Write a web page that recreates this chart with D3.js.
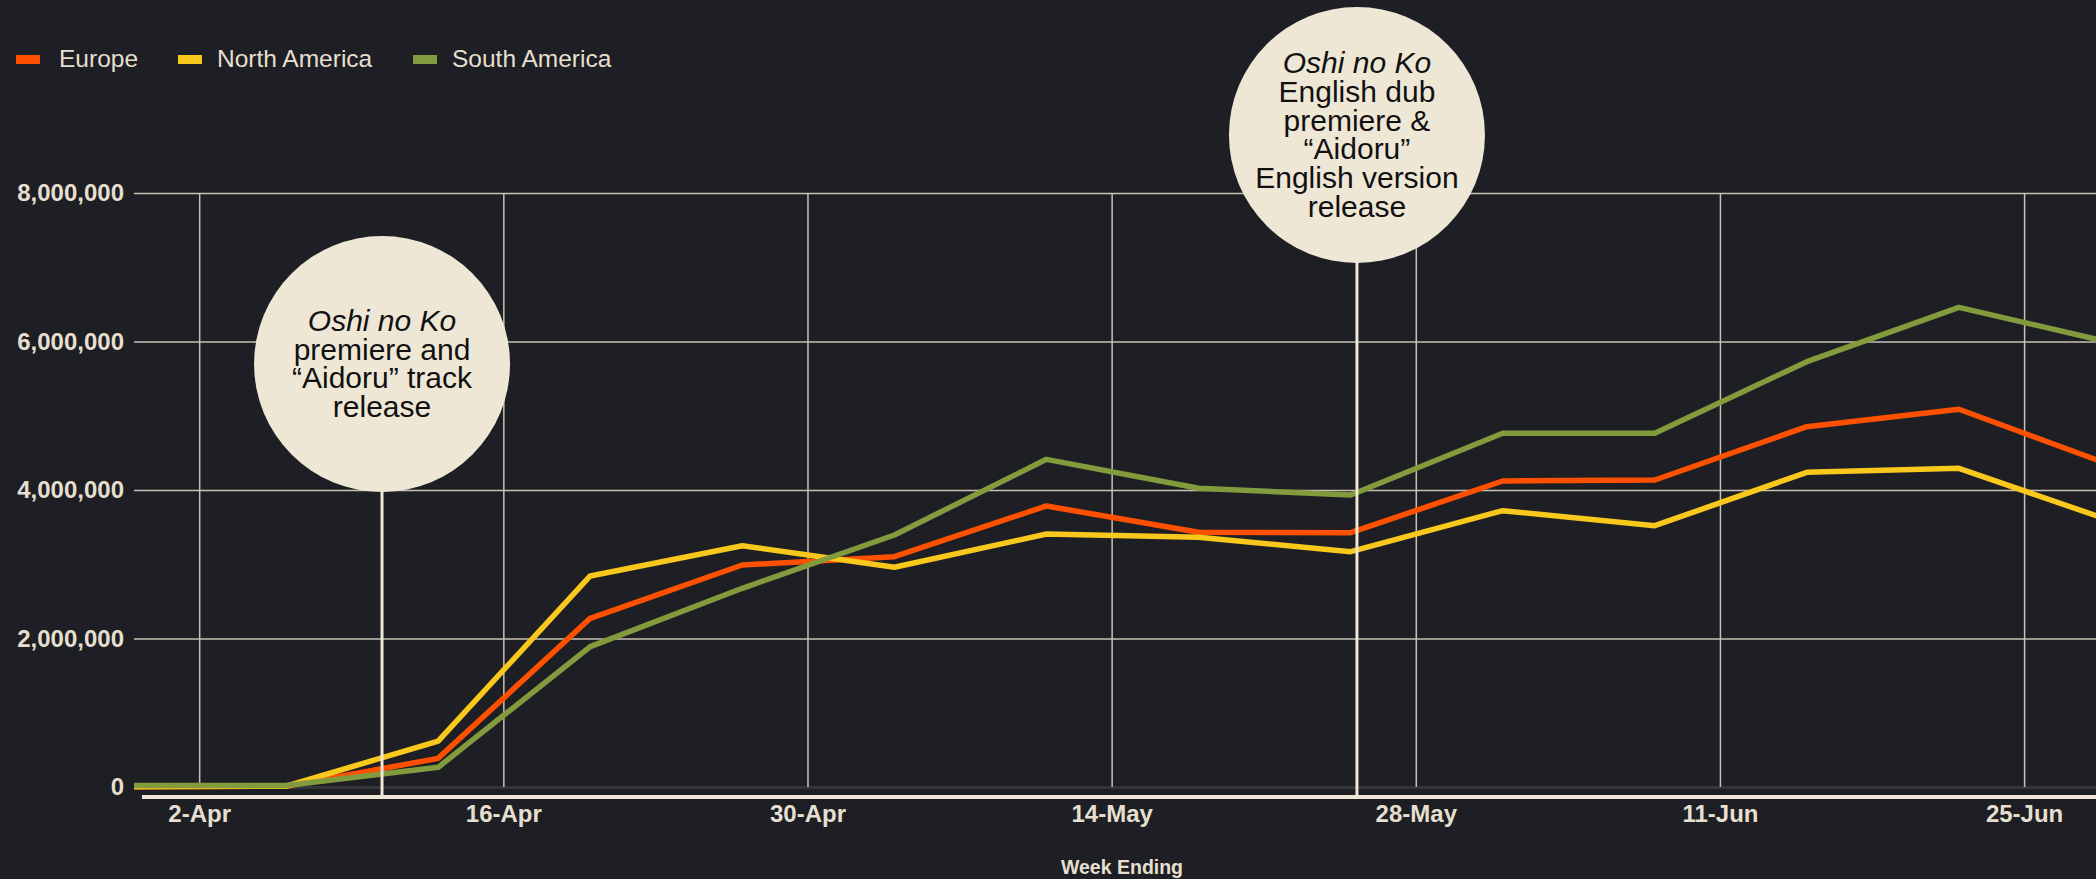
<!DOCTYPE html>
<html>
<head>
<meta charset="utf-8">
<script src="https://cdn.jsdelivr.net/npm/d3@7"></script>
<style>
  html, body { margin: 0; padding: 0; background: #1e1f24; overflow: hidden; }
  svg { display: block; }
</style>
</head>
<body>
<div id="container"></div>
<script>
// weekly chart data, week ending (Thursday)
const weeks = ["2023-03-30", "2023-04-06", "2023-04-13", "2023-04-20", "2023-04-27", "2023-05-04", "2023-05-11",
  "2023-05-18", "2023-05-25", "2023-06-01", "2023-06-08", "2023-06-15", "2023-06-22", "2023-06-29"];

const europe = [5000, 10000, 386000, 2272000, 2990000, 3102000, 3785000, 3430000, 3425000, 4121000, 4135000, 4853000, 5087000, 4334000];
const northAmerica = [5000, 10000, 619000, 2842000, 3250000, 2959000, 3407000, 3363000, 3169000, 3722000, 3519000, 4238000, 4292000, 3585000];
const southAmerica = [20000, 20000, 265000, 1890000, 2676000, 3394000, 4413000, 4023000, 3933000, 4764000, 4764000, 5728000, 6460000, 5985000];

const seriesNames = ["Europe", "North America", "South America"];
const seriesColors = ["#ff5000", "#f9c81c", "#819b3d"];

const tickDates = ["2023-04-02", "2023-04-16", "2023-04-30", "2023-05-14", "2023-05-28", "2023-06-11", "2023-06-25"];
const yTicks = [0, 2000000, 4000000, 6000000, 8000000];

const annotations = [
  { date: "2023-04-10 10:00", cy: 364, lines: ["Oshi no Ko", "premiere and", "\u201CAidoru\u201D track", "release"] },
  { date: "2023-05-25 07:00", cy: 135, lines: ["Oshi no Ko", "English dub", "premiere &", "\u201CAidoru\u201D", "English version", "release"] }
];

const W = 2096, H = 879;
const cream = "#efe7d5";
const textCol = "#e6dfcf";
const gridCol = "#c9c2b3";

const parseDay = d3.timeParse("%Y-%m-%d");
const parseTime = d3.timeParse("%Y-%m-%d %H:%M");

const plot = { left: 134, right: 2111, top: 193, bottom: 787 };

const x = d3.scaleTime()
  .domain([parseDay(weeks[0]), parseDay(weeks[weeks.length - 1])])
  .range([plot.left, plot.right]);
const y = d3.scaleLinear().domain([0, 8000000]).range([plot.bottom, plot.top]);

const svg = d3.select("#container").append("svg")
  .attr("width", W).attr("height", H)
  .style("background", "#1e1f24");

// y axis + horizontal gridlines
const yAxis = svg.append("g")
  .attr("transform", `translate(${plot.left},0)`)
  .call(d3.axisLeft(y).tickValues(yTicks).tickFormat(d3.format(",")).tickSize(-(W - plot.left)).tickPadding(10));
yAxis.select(".domain").remove();
yAxis.selectAll(".tick line")
  .attr("stroke", d => d === 0 ? "#34353a" : gridCol)
  .attr("stroke-width", d => d === 0 ? 3 : 1.5);
yAxis.selectAll(".tick text")
  .attr("fill", textCol)
  .style("font", "bold 24px 'Liberation Sans', Arial, sans-serif");

// x axis + vertical gridlines
const xAxis = svg.append("g")
  .attr("transform", `translate(0,${plot.bottom})`)
  .call(d3.axisBottom(x).tickValues(tickDates.map(parseDay)).tickFormat(d3.timeFormat("%-d-%b"))
    .tickSize(-(plot.bottom - plot.top)).tickPadding(18));
xAxis.select(".domain").remove();
xAxis.selectAll(".tick line").attr("stroke", gridCol).attr("stroke-width", 1.5);
xAxis.selectAll(".tick text")
  .attr("fill", textCol)
  .style("font", "bold 24px 'Liberation Sans', Arial, sans-serif");

// cream baseline
svg.append("line")
  .attr("x1", plot.left + 8).attr("x2", W)
  .attr("y1", plot.bottom + 10).attr("y2", plot.bottom + 10)
  .attr("stroke", cream).attr("stroke-width", 4);

svg.append("text")
  .attr("x", 1122).attr("y", 874)
  .attr("text-anchor", "middle")
  .attr("fill", textCol)
  .style("font", "bold 19.5px 'Liberation Sans', Arial, sans-serif")
  .text("Week Ending");

// lines
const seriesData = [europe, northAmerica, southAmerica];
const line = d3.line()
  .x((d, i) => x(parseDay(weeks[i])))
  .y(d => y(d));

svg.append("g").selectAll("path")
  .data(seriesData)
  .enter().append("path")
  .attr("d", d => line(d))
  .attr("fill", "none")
  .attr("stroke", (d, i) => seriesColors[i])
  .attr("stroke-width", 5.5)
  .attr("stroke-linejoin", "round");

// annotations
const ann = svg.append("g").selectAll("g")
  .data(annotations)
  .enter().append("g");
const r = 128;
ann.append("line")
  .attr("x1", d => x(parseTime(d.date))).attr("x2", d => x(parseTime(d.date)))
  .attr("y1", d => d.cy + r - 2).attr("y2", plot.bottom + 10)
  .attr("stroke", cream).attr("stroke-width", 3);
ann.append("circle")
  .attr("cx", d => x(parseTime(d.date)))
  .attr("cy", d => d.cy)
  .attr("r", r)
  .attr("fill", cream);
ann.each(function (d) {
  const g = d3.select(this);
  const cx = x(parseTime(d.date));
  const lh = 28.7;
  const firstBase = d.cy - (d.lines.length - 1) * lh / 2 + 10;
  const t = g.append("text")
    .attr("text-anchor", "middle")
    .attr("fill", "#111")
    .style("font", "30px 'Liberation Sans', Arial, sans-serif");
  d.lines.forEach((l, i) => {
    t.append("tspan")
      .attr("x", cx)
      .attr("y", firstBase + i * lh)
      .style("font-style", i === 0 ? "italic" : "normal")
      .text(l);
  });
});

// legend
const legendX = [16, 178, 413];
const legend = svg.append("g").selectAll("g")
  .data(seriesNames)
  .enter().append("g")
  .attr("transform", (d, i) => `translate(${legendX[i]},0)`);
legend.append("rect")
  .attr("x", 0).attr("y", 55).attr("width", 24).attr("height", 9)
  .attr("fill", (d, i) => seriesColors[i]);
legend.append("text")
  .attr("x", (d, i) => i === 0 ? 43 : 39).attr("y", 67)
  .attr("fill", textCol)
  .style("font", "24.5px 'Liberation Sans', Arial, sans-serif")
  .text(d => d);
</script>
</body>
</html>
